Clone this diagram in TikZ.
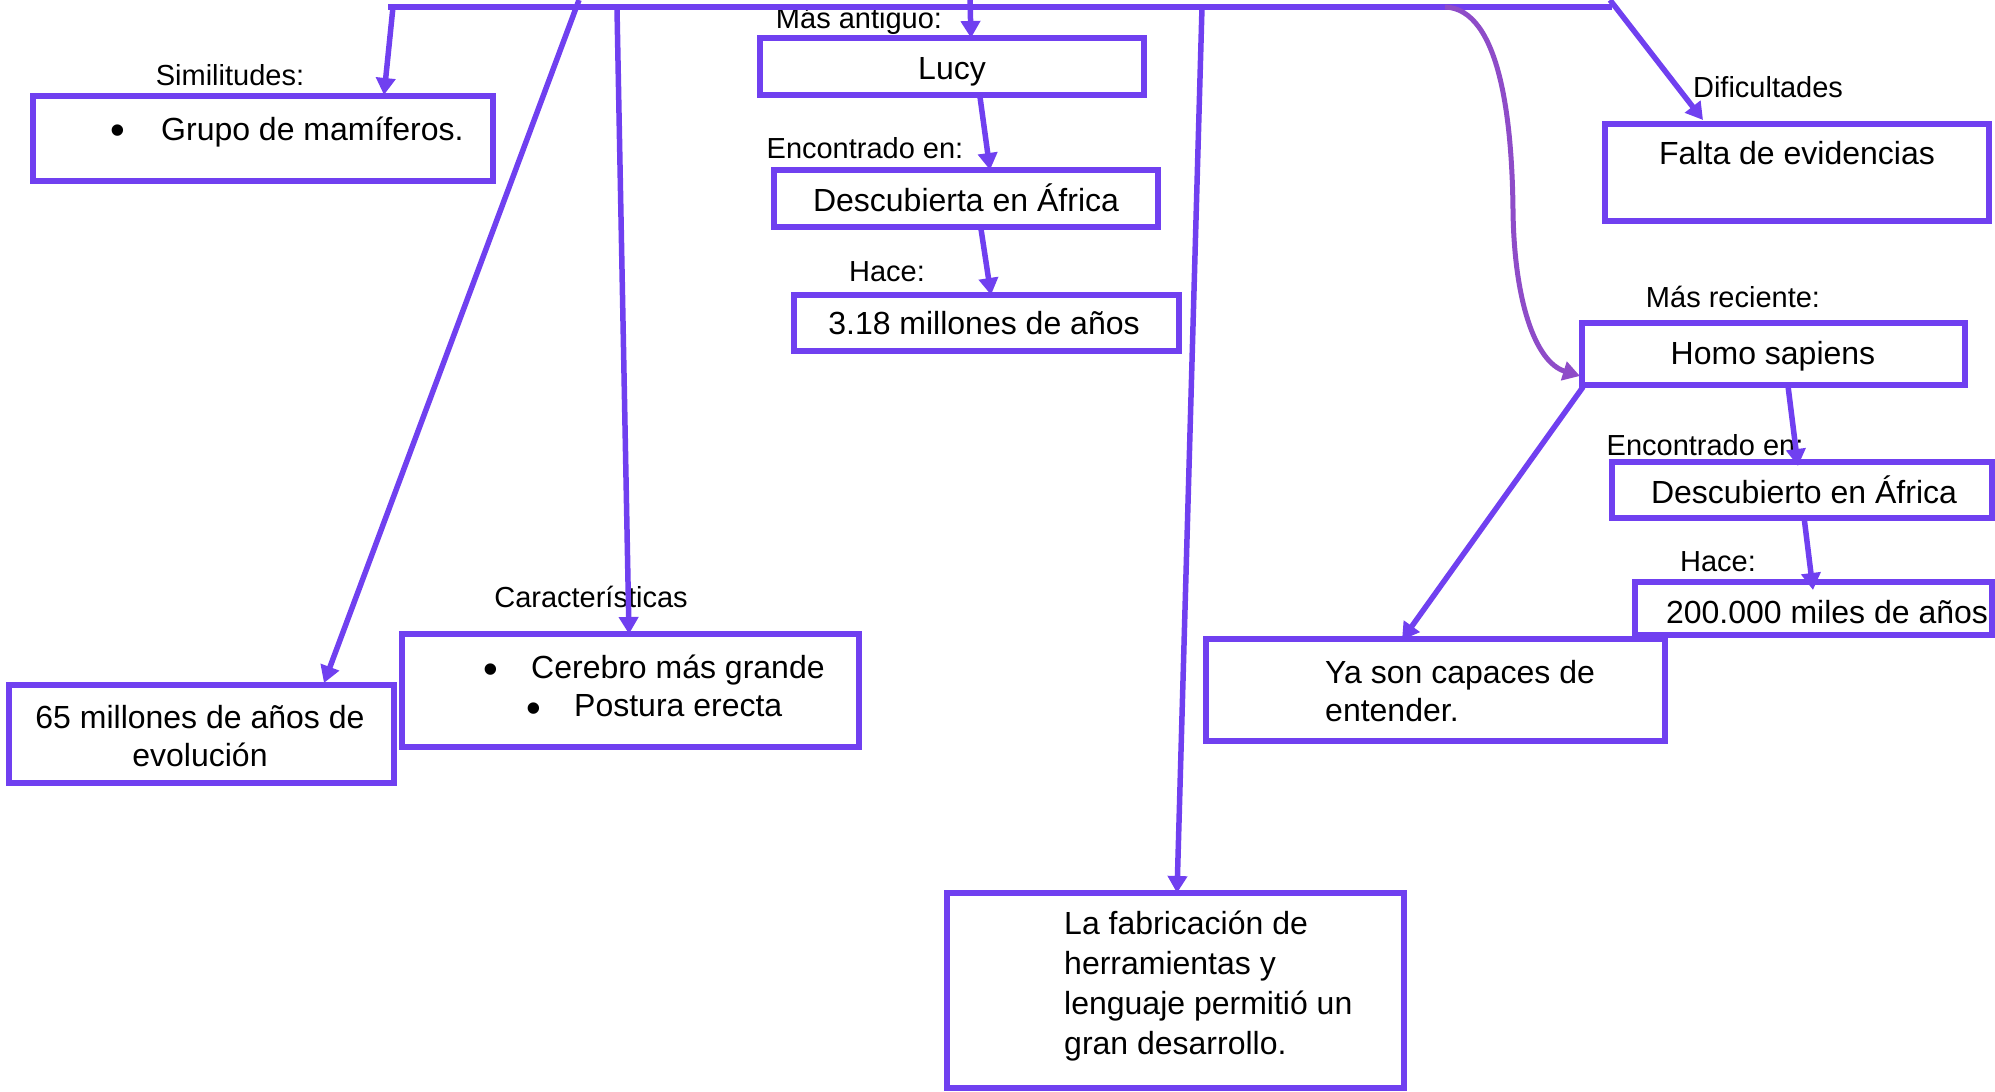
\documentclass[tikz,border=0pt]{standalone}
\usepackage{fontspec}
\setmainfont{Liberation Sans}
\usetikzlibrary{arrows.meta}
\definecolor{vio}{RGB}{112,64,240}
\definecolor{mag}{RGB}{142,76,200}
\begin{document}
\begin{tikzpicture}[x=1pt,y=-1pt,
  box/.style={draw=vio,line width=6pt,rectangle,inner sep=0pt},
  big/.style={font=\fontsize{32}{40}\selectfont,inner sep=0pt},
  lab/.style={font=\fontsize{29}{34}\selectfont,inner sep=0pt},
  bul/.style={font=\fontsize{42}{42}\selectfont,inner sep=0pt},
  ln/.style={draw=vio,line width=5.5pt},
  arr/.style={ln,-{Triangle[width=19pt,length=17pt]}}]
\useasboundingbox (0,0) rectangle (1995,1092);
% boxes
\node[box,minimum width=460pt,minimum height=85pt] (sim) at (263,138.5) {};
\node[box,minimum width=385pt,minimum height=98pt] (ev65) at (201.5,734) {};
\node[box,minimum width=457pt,minimum height=113pt] (car) at (630.5,690.5) {};
\node[box,minimum width=384pt,minimum height=57pt] (lucy) at (952,66.5) {};
\node[box,minimum width=384pt,minimum height=57pt] (afr1) at (966,198.5) {};
\node[box,minimum width=385pt,minimum height=56pt] (m318) at (986.5,323) {};
\node[box,minimum width=457pt,minimum height=195pt] (fab) at (1175.5,990.5) {};
\node[box,minimum width=384pt,minimum height=97pt] (falta) at (1797,172.5) {};
\node[box,minimum width=383pt,minimum height=62pt] (homo) at (1773.5,354) {};
\node[box,minimum width=380pt,minimum height=56pt] (afr2) at (1802,490) {};
\node[box,minimum width=357pt,minimum height=53pt] (m200) at (1813.5,608.5) {};
\node[box,minimum width=459pt,minimum height=102pt] (ya) at (1435.5,690) {};
% texts
\node[lab,anchor=base] (tsim) at (230,85.4) {Similitudes:};
\node[bul,anchor=base] (b0) at (118,144) {•};
\node[big,anchor=base west] (tgrupo) at (161,140) {Grupo de mamíferos.};
\node[lab,anchor=base] (tant) at (859,28.4) {Más antiguo:};
\node[big,anchor=base] (tlucy) at (952,79.5) {Lucy};
\node[lab,anchor=base] (tenc1) at (865,158.4) {Encontrado en:};
\node[big,anchor=base] (tafr1) at (966,211) {Descubierta en África};
\node[lab,anchor=base] (thace1) at (887,281.4) {Hace:};
\node[big,anchor=base] (t318) at (984,334.5) {3.18 millones de años};
\node[lab,anchor=base] (tcar) at (591,607.4) {Características};
\node[bul,anchor=base] (b1) at (491,683) {•};
\node[big,anchor=base west] (tcer) at (531,678.5) {Cerebro más grande};
\node[bul,anchor=base] (b2) at (534,722) {•};
\node[big,anchor=base west] (tpos) at (574,716.5) {Postura erecta};
\node[big,anchor=base,align=center,font=\fontsize{32}{38}\selectfont] (t65) at (200,766.5) {65 millones de años de\\evolución};
\node[big,anchor=base west,align=left] (tfab) at (1064,1054) {La fabricación de\\herramientas y\\lenguaje permitió un\\gran desarrollo.};
\node[lab,anchor=base] (tdif) at (1768,97.4) {Dificultades};
\node[big,anchor=base] (tfalta) at (1797,164.5) {Falta de evidencias};
\node[lab,anchor=base] (trec) at (1733,307.4) {Más reciente:};
\node[big,anchor=base] (thomo) at (1773,364.5) {Homo sapiens};
\node[lab,anchor=base] (tenc2) at (1705,455.4) {Encontrado en:};
\node[big,anchor=base] (tafr2) at (1804,503.5) {Descubierto en África};
\node[lab,anchor=base] (thace2) at (1718,571.4) {Hace:};
\node[big,anchor=base] (t200) at (1827,623.5) {200.000 miles de años};
\node[big,anchor=base west,align=left,font=\fontsize{32}{38}\selectfont] (tya) at (1325,721.5) {Ya son capaces de\\entender.};
% coordinates
\coordinate (tl) at (388,7);
\coordinate (tr) at (1612,7);
\coordinate (s1) at (393,7);
\coordinate (s1e) at (384,95);
\coordinate (s2) at (579,0);
\coordinate (s2e) at (324,683);
\coordinate (s3) at (617,9);
\coordinate (s3e) at (629,634);
\coordinate (s4) at (970,0);
\coordinate (s4e) at (971,38);
\coordinate (s5) at (980,97);
\coordinate (s5e) at (990,170);
\coordinate (s6) at (981,229);
\coordinate (s6e) at (991,295);
\coordinate (s7) at (1202,7);
\coordinate (s7e) at (1177,893);
\coordinate (s8) at (1445,7);
\coordinate (s8m) at (1513,210);
\coordinate (s8e) at (1580,376);
\coordinate (s9) at (1610,0);
\coordinate (s9e) at (1703,120);
\coordinate (s10) at (1788,386);
\coordinate (s10e) at (1798,466);
\coordinate (s11) at (1804,517);
\coordinate (s11e) at (1813,590);
\coordinate (s12) at (1583,387);
\coordinate (s12e) at (1402,640);
% connectors
\draw[ln] (tl) -- (tr);
\draw[arr] (s1) -- (s1e);
\draw[arr] (s2) -- (s2e);
\draw[arr] (s3) -- (s3e);
\draw[arr] (s4) -- (s4e);
\draw[arr] (s5) -- (s5e);
\draw[arr] (s6) -- (s6e);
\draw[arr] (s7) -- (s7e);
\draw[draw=mag,line width=5pt,-{Triangle[width=19pt,length=17pt]}] (s8) .. controls (1500,9) and (1512,120) .. (s8m) .. controls (1514,300) and (1535,362) .. (s8e);
\draw[arr] (s9) -- (s9e);
\draw[arr] (s10) -- (s10e);
\draw[arr] (s11) -- (s11e);
\draw[arr] (s12) -- (s12e);
\end{tikzpicture}
\end{document}
